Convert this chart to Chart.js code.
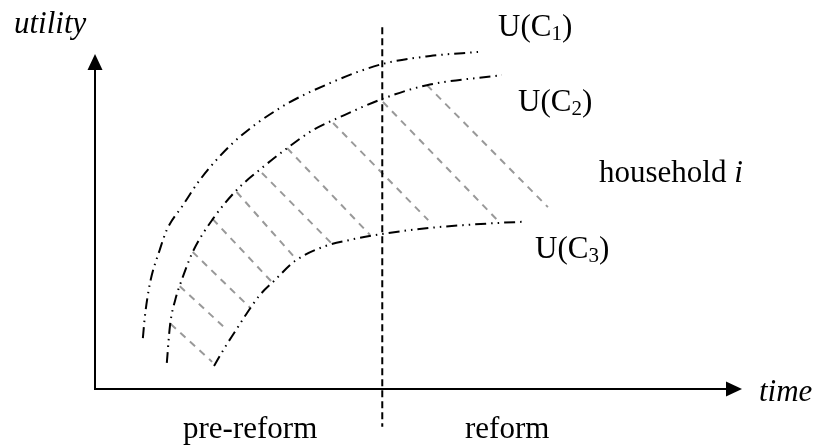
<!DOCTYPE html>
<html>
<head>
<meta charset="utf-8">
<script src="https://cdn.jsdelivr.net/npm/chart.js@4/dist/chart.umd.min.js"></script>
<style>
  body { margin: 0; background: #fff; }
  #wrap { width: 817px; height: 446px; }
</style>
</head>
<body>
<div id="wrap"><canvas id="utilityChart" width="817" height="446"></canvas></div>
<script>
// time / utility coordinates (both axes 0..100)
const c1Time    = [7.4, 7.7, 8.5, 10.0, 11.1, 13.6, 16.2, 21.3, 28.6, 36.3, 44.4, 51.8, 59.2];
const c1Utility = [15.2, 21.5, 31.6, 41.5, 47.5, 54.9, 62.4, 73.4, 83.9, 91.3, 97.0, 99.4, 100.6];

const c2Time    = [11.1, 11.6, 12.4, 13.4, 15.1, 18.2, 21.9, 26.0, 29.7, 33.7, 37.9, 44.4, 51.3, 62.9];
const c2Utility = [7.8, 19.1, 26.6, 32.5, 40.9, 50.7, 59.4, 66.3, 71.9, 77.3, 81.2, 86.6, 90.7, 93.7];

const c3Time    = [18.4, 20.1, 21.6, 23.5, 25.5, 27.8, 30.9, 35.2, 39.4, 44.4, 51.8, 62.6, 66.0];
const c3Utility = [6.9, 12.5, 17.0, 22.7, 28.1, 32.5, 38.2, 42.4, 44.5, 46.3, 48.1, 49.6, 49.9];

// shaded band between U(C2) and U(C3)
const hatchTimeStart = [11.7, 13.1, 15.1, 18.2, 21.9, 25.8, 29.7, 36.8, 44.5, 51.3];
const hatchUtilStart = [19.4, 30.7, 40.9, 50.7, 58.8, 64.5, 71.9, 79.4, 85.7, 90.7];
const hatchTimeEnd   = [18.1, 20.1, 24.0, 27.8, 31.2, 36.8, 42.5, 51.5, 62.6, 70.0];
const hatchUtilEnd   = [8.1, 18.2, 24.2, 31.0, 38.5, 43.0, 46.0, 50.4, 49.6, 54.3];

const reformTime = 44.4;
const reformUtilRange = [108, -11.3];

const curveSubs = ['1', '2', '3'];

function toPoints(xs, ys) {
    return xs.map((x, i) => ({ x: x, y: ys[i] }));
}

const curveDash = [11, 5, 1.5, 5, 1.5, 5];

const datasets = [
    { data: toPoints(c1Time, c1Utility), borderColor: '#000', borderWidth: 2, borderDash: curveDash, cubicInterpolationMode: 'monotone' },
    { data: toPoints(c2Time, c2Utility), borderColor: '#000', borderWidth: 2, borderDash: curveDash, cubicInterpolationMode: 'monotone' },
    { data: toPoints(c3Time, c3Utility), borderColor: '#000', borderWidth: 2, borderDash: curveDash, cubicInterpolationMode: 'monotone' },
    { data: [{ x: reformTime, y: reformUtilRange[0] }, { x: reformTime, y: reformUtilRange[1] }],
      borderColor: '#000', borderWidth: 2, borderDash: [7, 4] }
];

hatchTimeStart.forEach((t, i) => {
    datasets.push({
        data: [{ x: t, y: hatchUtilStart[i] }, { x: hatchTimeEnd[i], y: hatchUtilEnd[i] }],
        borderColor: '#999',
        borderWidth: 2,
        borderDash: [7, 6]
    });
});

datasets.forEach(ds => {
    ds.showLine = true;
    ds.pointRadius = 0;
    ds.clip = false;
});

// axes with arrows + all text
const diagramPlugin = {
    id: 'diagram',
    afterDraw(chart) {
        const ctx = chart.ctx;
        const a = chart.chartArea;
        const ox = a.left, oy = a.bottom;
        ctx.save();
        ctx.setLineDash([]);
        ctx.strokeStyle = '#000';
        ctx.fillStyle = '#000';
        ctx.lineWidth = 2;

        // y axis
        ctx.beginPath();
        ctx.moveTo(ox, oy + 1);
        ctx.lineTo(ox, a.top + 14);
        ctx.stroke();
        ctx.beginPath();
        ctx.moveTo(ox, a.top);
        ctx.lineTo(ox - 7.5, a.top + 16);
        ctx.lineTo(ox + 7.5, a.top + 16);
        ctx.closePath();
        ctx.fill();

        // x axis
        ctx.beginPath();
        ctx.moveTo(ox - 1, oy);
        ctx.lineTo(a.right - 14, oy);
        ctx.stroke();
        ctx.beginPath();
        ctx.moveTo(a.right, oy);
        ctx.lineTo(a.right - 16, oy - 7.5);
        ctx.lineTo(a.right - 16, oy + 7.5);
        ctx.closePath();
        ctx.fill();

        ctx.textBaseline = 'alphabetic';
        ctx.textAlign = 'left';
        const serif = '"Liberation Serif", "Times New Roman", serif';
        const size = 31;

        ctx.font = 'italic ' + size + 'px ' + serif;
        ctx.fillText('utility', 14, 33);
        ctx.fillText('time', 759, 401);

        ctx.font = size + 'px ' + serif;
        ctx.fillText('pre-reform', 183, 438);
        ctx.fillText('reform', 465, 438);

        const hh = 'household ';
        ctx.fillText(hh, 599, 182);
        const hw = ctx.measureText(hh).width;
        ctx.font = 'italic ' + size + 'px ' + serif;
        ctx.fillText('i', 599 + hw, 182);

        // U(C_k) labels
        const labelPos = [[498, 36], [518, 111], [535, 258]];
        labelPos.forEach((p, i) => {
            let x = p[0];
            ctx.font = size + 'px ' + serif;
            ctx.fillText('U(C', x, p[1]);
            x += ctx.measureText('U(C').width;
            ctx.font = '21px ' + serif;
            ctx.fillText(curveSubs[i], x, p[1] + 4);
            x += ctx.measureText(curveSubs[i]).width;
            ctx.font = size + 'px ' + serif;
            ctx.fillText(')', x, p[1]);
        });
        ctx.restore();
    }
};

new Chart(document.getElementById('utilityChart').getContext('2d'), {
    type: 'scatter',
    data: { datasets: datasets },
    options: {
        responsive: false,
        animation: false,
        layout: { padding: { left: 95, right: 75, top: 54, bottom: 57 } },
        plugins: { legend: { display: false }, tooltip: { enabled: false } },
        scales: {
            x: { type: 'linear', min: 0, max: 100, display: false },
            y: { type: 'linear', min: 0, max: 100, display: false }
        }
    },
    plugins: [diagramPlugin]
});
</script>
</body>
</html>
